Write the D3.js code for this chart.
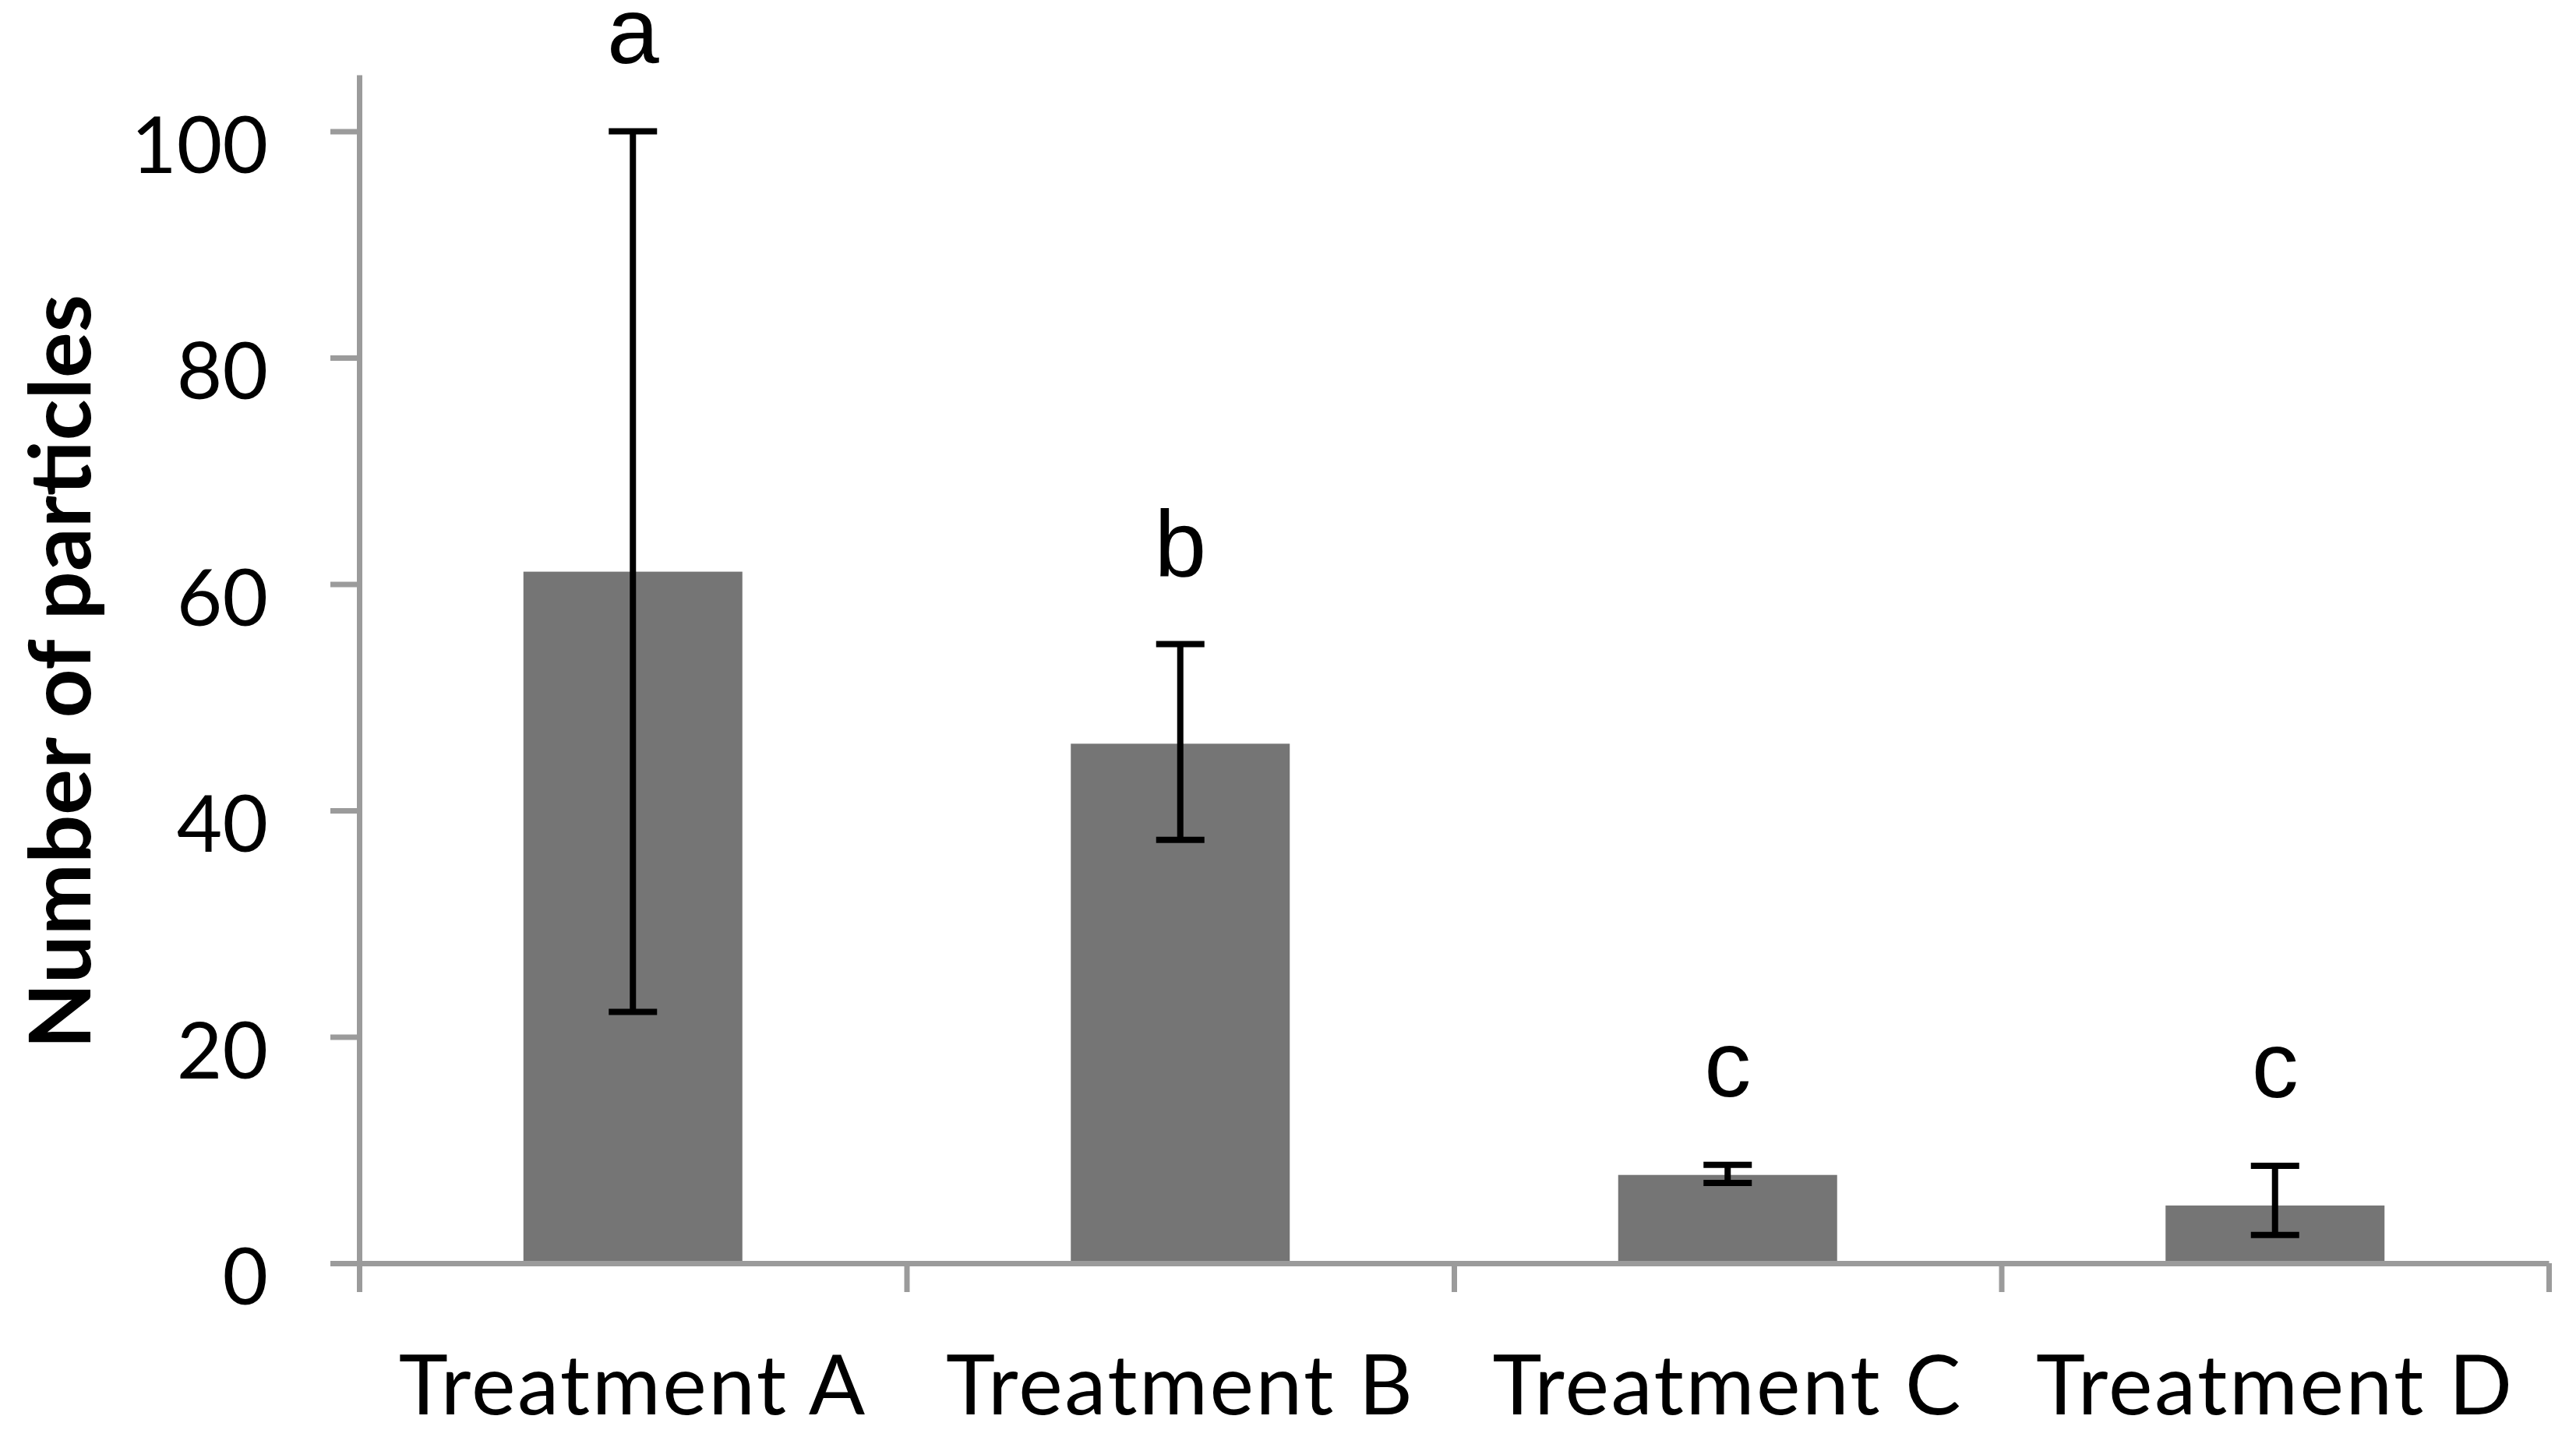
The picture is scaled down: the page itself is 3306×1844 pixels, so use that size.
<!DOCTYPE html>
<html>
<head>
<meta charset="utf-8">
<script src="https://cdn.jsdelivr.net/npm/d3@7"></script>
<style>
  html, body { margin: 0; padding: 0; background: #fff; }
  #chart svg { display: block; }
</style>
</head>
<body>
<div id="chart"></div>
<script>
const categories = ['Treatment A', 'Treatment B', 'Treatment C', 'Treatment D'];
const means = [61.1, 45.9, 7.8, 5.1];
const errUp = [38.9, 8.8, 0.9, 3.5];
const errDown = [38.9, 8.5, 0.7, 2.6];
const groupLetters = ['a', 'b', 'c', 'c'];
const yTicks = [0, 20, 40, 60, 80, 100];

(() => {
  const width = 3306, height = 1844;
  const margin = { top: 96, right: 35, bottom: 223, left: 461 };
  const axisColor = '#9b9b9b';

  const svg = d3.select('#chart')
    .append('svg')
    .attr('width', width)
    .attr('height', height);

  const x = d3.scaleBand()
    .domain(categories)
    .range([margin.left, width - margin.right])
    .paddingInner(0.6)
    .paddingOuter(0.3);

  const xEdge = d3.scaleLinear()
    .domain([0, categories.length])
    .range([margin.left, width - margin.right]);

  const y = d3.scaleLinear()
    .domain([0, 105])
    .range([height - margin.bottom, margin.top]);

  // Barras
  svg.selectAll('.bar')
    .data(means)
    .enter()
    .append('rect')
    .attr('class', 'bar')
    .attr('x', (d, i) => x(categories[i]))
    .attr('y', d => y(d))
    .attr('width', x.bandwidth())
    .attr('height', d => y(0) - y(d))
    .attr('fill', '#757575');

  // Eje Y
  const yAxis = svg.append('g')
    .attr('transform', `translate(${margin.left},0)`)
    .call(d3.axisLeft(y).tickValues(yTicks).tickSize(37).tickSizeOuter(0).tickPadding(80));
  yAxis.select('.domain').attr('stroke', axisColor).attr('stroke-width', 7);
  yAxis.selectAll('.tick line').attr('stroke', axisColor).attr('stroke-width', 7);
  yAxis.selectAll('.tick text')
    .attr('font-family', 'Lato, sans-serif')
    .attr('font-size', 101)
    .attr('fill', '#000')
    .attr('dy', '0.52em');

  // Eje X (marcas entre categorías)
  const xAxis = svg.append('g')
    .attr('transform', `translate(0,${y(0)})`)
    .call(d3.axisBottom(xEdge).ticks(categories.length).tickSize(37).tickSizeOuter(0).tickFormat(''));
  xAxis.select('.domain').attr('stroke', axisColor).attr('stroke-width', 7);
  xAxis.selectAll('.tick line').attr('stroke', axisColor).attr('stroke-width', 7);

  // Etiquetas de categorías
  const xLabels = svg.append('g')
    .attr('transform', `translate(0,${y(0)})`)
    .call(d3.axisBottom(x).tickSize(0).tickPadding(118));
  xLabels.select('.domain').remove();
  xLabels.selectAll('.tick text')
    .attr('font-family', 'Lato, sans-serif')
    .attr('font-size', 107)
    .attr('letter-spacing', 2.5)
    .attr('fill', '#000');

  // Barras de error
  const cx = i => x(categories[i]) + x.bandwidth() / 2;
  const err = svg.append('g')
    .attr('stroke', '#000')
    .attr('stroke-width', 8)
    .attr('fill', 'none');
  means.forEach((m, i) => {
    const top = y(m + errUp[i]), bottom = y(m - errDown[i]);
    err.append('line').attr('x1', cx(i)).attr('x2', cx(i)).attr('y1', top).attr('y2', bottom);
    err.append('line').attr('x1', cx(i) - 31).attr('x2', cx(i) + 31).attr('y1', top).attr('y2', top);
    err.append('line').attr('x1', cx(i) - 31).attr('x2', cx(i) + 31).attr('y1', bottom).attr('y2', bottom);
  });

  // Letras de significancia
  svg.selectAll('.letter')
    .data(groupLetters)
    .enter()
    .append('text')
    .attr('class', 'letter')
    .attr('x', (d, i) => cx(i))
    .attr('y', (d, i) => y(means[i] + errUp[i]) - 88)
    .attr('text-anchor', 'middle')
    .attr('font-family', '"Liberation Sans", Arial, sans-serif')
    .attr('font-size', 120)
    .attr('fill', '#000')
    .text(d => d);

  // Título del eje Y
  svg.append('text')
    .attr('transform', `translate(116,${(379 + 1345) / 2}) rotate(-90)`)
    .attr('text-anchor', 'middle')
    .attr('font-family', 'Lato, sans-serif')
    .attr('font-weight', 'bold')
    .attr('font-size', 110)
    .attr('fill', '#000')
    .text('Number of particles');
})();
</script>
</body>
</html>
